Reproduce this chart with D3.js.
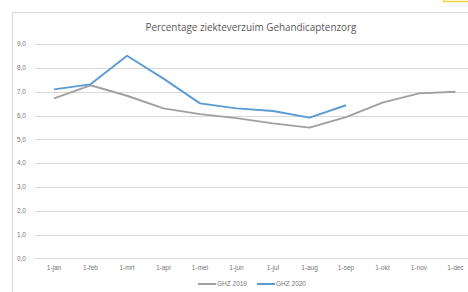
<!DOCTYPE html>
<html><head><meta charset="utf-8">
<script src="https://cdn.jsdelivr.net/npm/d3@7"></script>
<style>body{margin:0;background:#fff;overflow:hidden}</style>
</head><body>
<script>
const months = ["1-jan","1-feb","1-mrt","1-apr","1-mei","1-jun","1-jul","1-aug","1-sep","1-okt","1-nov","1-dec"];
const ghz2019 = [6.72,7.27,6.83,6.30,6.06,5.89,5.67,5.49,5.93,6.54,6.93,7.00];
const ghz2020 = [7.10,7.31,8.51,7.55,6.51,6.30,6.19,5.91,6.43];
const yTicks = [0,1,2,3,4,5,6,7,8,9];
const seriesNames = ["GHZ 2019","GHZ 2020"];
const colors = ["#a0a0a0","#5b9bd5"];

const W=468,H=292;
const svg=d3.select("body").append("svg").attr("width",W).attr("height",H);
// frame
svg.append("rect").attr("x",12.5).attr("y",12.5).attr("width",470).attr("height",300)
  .attr("fill","#fff").attr("stroke","#d9d9d9");
// yellow box edge at top right
svg.append("path").attr("d","M443.5,0 V1.5 H470").attr("fill","none").attr("stroke","#f2d33c").attr("stroke-width",1.5);

const x=d3.scalePoint().domain(months).range([54,455.5]);
const y=d3.scaleLinear().domain([0,9]).range([258.3,44.1]);

// gridlines
svg.append("g").selectAll("line").data(yTicks).join("line")
  .attr("x1",35).attr("x2",W).attr("y1",d=>Math.round(y(d))+0.5).attr("y2",d=>Math.round(y(d))+0.5)
  .attr("stroke","#d9d9d9").attr("stroke-width",1);

const fmt=d=>d3.format(".1f")(d).replace(".",",");
svg.append("g").selectAll("text").data(yTicks).join("text")
  .attr("x",26).attr("y",d=>y(d)).attr("dy","0.35em").attr("text-anchor","end")
  .attr("font-family","Liberation Sans, Arial, sans-serif").attr("font-size",6.5).attr("fill","#767676")
  .text(fmt);

svg.append("g").selectAll("text").data(months).join("text")
  .attr("x",d=>x(d)).attr("y",270).attr("text-anchor","middle")
  .attr("font-family","Liberation Sans, Arial, sans-serif").attr("font-size",6.5).attr("fill","#767676")
  .text(d=>d);

const line=d3.line().x((d,i)=>x(months[i])).y(d=>y(d));
[ghz2019,ghz2020].forEach((s,k)=>{
  svg.append("path").datum(s).attr("d",line).attr("fill","none")
    .attr("stroke",colors[k]).attr("stroke-width",1.9).attr("stroke-linejoin","round");
});

svg.append("text").attr("x",251).attr("y",31).attr("text-anchor","middle")
  .attr("font-family","Open Sans, Liberation Sans, sans-serif").attr("font-size",9.9).attr("fill","#595959")
  .text("Percentage ziekteverzuim Gehandicaptenzorg");

// legend
const lg=[{x:198,t:seriesNames[0],c:colors[0]},{x:257,t:seriesNames[1],c:colors[1]}];
lg.forEach(l=>{
  svg.append("line").attr("x1",l.x).attr("x2",l.x+18).attr("y1",284).attr("y2",284).attr("stroke",l.c).attr("stroke-width",2);
  svg.append("text").attr("x",l.x+19).attr("y",284).attr("dy","0.35em")
    .attr("font-family","Liberation Sans, Arial, sans-serif").attr("font-size",6.5).attr("fill","#767676").text(l.t);
});
</script>
</body></html>
